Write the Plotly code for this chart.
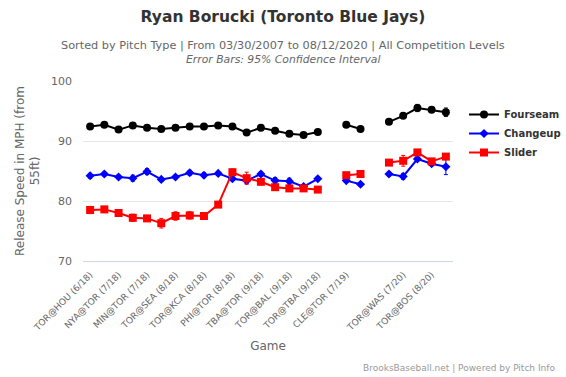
import plotly.graph_objects as go

# Game slots (blank slots separate seasons)
game_idx = list(range(26))
tick_pos = [0, 2, 4, 6, 8, 10, 12, 14, 16, 18, 20, 22, 24]
tick_labels = ["TOR@HOU (6/18)", "NYA@TOR (7/18)", "MIN@TOR (7/18)", "TOR@SEA (8/18)",
               "TOR@KCA (8/18)", "PHI@TOR (8/18)", "TBA@TOR (9/18)", "TOR@BAL (9/18)",
               "TOR@TBA (9/18)", "CLE@TOR (7/19)", "", "TOR@WAS (7/20)", "TOR@BOS (8/20)"]

fourseam = [92.4, 92.7, 91.9, 92.6, 92.2, 92.0, 92.2, 92.4, 92.4, 92.6, 92.4, 91.4, 92.2,
            91.7, 91.2, 91.0, 91.5, None, 92.7, 92.0, None, 93.2, 94.2, 95.5, 95.2, 94.8]
fourseam_err = [0.3, 0.3, 0.3, 0.3, 0.3, 0.3, 0.3, 0.3, 0.3, 0.3, 0.3, 0.3, 0.3,
                0.3, 0.3, 0.3, 0.3, None, 0.3, 0.3, None, 0.3, 0.4, 0.6, 0.4, 0.7]
changeup = [84.2, 84.5, 84.0, 83.8, 84.9, 83.6, 84.0, 84.7, 84.3, 84.6, 83.7, 83.4, 84.5,
            83.4, 83.3, 82.4, 83.7, None, 83.4, 82.8, None, 84.5, 84.1, 87.0, 86.2, 85.7]
changeup_err = [0.4, 0.3, 0.3, 0.5, 0.5, 0.3, 0.3, 0.4, 0.4, 0.3, 0.3, 0.5, 0.4,
                0.5, 0.5, 0.3, 0.3, None, 0.3, 0.3, None, 0.3, 0.5, 0.3, 0.3, 1.3]
slider = [78.5, 78.6, 78.0, 77.2, 77.1, 76.3, 77.5, 77.6, 77.5, 79.4, 84.8, 83.8, 83.2,
          82.3, 82.1, 82.1, 81.9, None, 84.3, 84.5, None, 86.4, 86.7, 88.1, 86.6, 87.4]
slider_err = [0.6, 0.5, 0.4, 0.6, 0.5, 0.8, 0.7, 0.6, 0.5, 0.4, 0.5, 1.0, 0.5,
              0.3, 0.3, 0.3, 0.3, None, 0.3, 0.3, None, 0.4, 0.9, 0.4, 0.4, 0.4]

FONT = "DejaVu Sans"
W, H = 566, 377
ML, MR, MT, MB = 83, 113, 81, 116

fig = go.Figure()
series = [
    ("Fourseam", fourseam, fourseam_err, "#000000", "circle", 8),
    ("Changeup", changeup, changeup_err, "#0000ff", "diamond", 7),
    ("Slider", slider, slider_err, "#ff0000", "square", 8),
]
for name, vals, errs, col, sym, sz in series:
    fig.add_trace(go.Scatter(
        x=game_idx, y=vals, name=name, mode="lines+markers",
        line=dict(color=col, width=2),
        marker=dict(color=col, symbol=sym, size=sz),
        error_y=dict(type="data", array=[e if e is not None else 0 for e in errs],
                     color=col, thickness=1, width=2),
        connectgaps=False,
    ))

plot_w = W - ML - MR
plot_h = H - MT - MB


def ypix(py):
    return (H - MB - py) / plot_h


def xpix(px):
    return (px - ML) / plot_w


fig.update_layout(
    width=W, height=H,
    margin=dict(l=ML, r=MR, t=MT, b=MB, autoexpand=False),
    paper_bgcolor="white", plot_bgcolor="white",
    font=dict(family=FONT, color="#666666", size=11),
    title=dict(text="Ryan Borucki (Toronto Blue Jays)", x=0.5, xanchor="center",
               y=1 - 17 / H, yanchor="middle",
               font=dict(family=FONT, size=15.5, color="#333333", weight="bold")),
    showlegend=True,
    legend=dict(x=xpix(464), xanchor="left", y=ypix(100), yanchor="top",
                font=dict(family=FONT, size=10, color="#333333", weight="bold"),
                bgcolor="rgba(0,0,0,0)", tracegroupgap=0, itemwidth=30),
    xaxis=dict(range=[-0.5, 25.5], tickmode="array", tickvals=tick_pos, ticktext=tick_labels,
               tickangle=-45, tickfont=dict(size=9, color="#666666"),
               showgrid=False, zeroline=False, showline=True, linecolor="#ccd6eb",
               linewidth=1, ticks="", ticklabelstandoff=4, automargin=False,
               title=dict(text="Game", font=dict(size=12, color="#666666"), standoff=9)),
    yaxis=dict(range=[70, 100], tickvals=[70, 80, 90, 100], showgrid=True,
               gridcolor="#e6e6e6", gridwidth=1, zeroline=False, showline=False,
               tickfont=dict(size=11, color="#666666"), ticklabelstandoff=10,
               automargin=False,
               title=dict(text="Release Speed in MPH (from<br>55ft)",
                          font=dict(size=12, color="#666666"), standoff=8)),
)

fig.add_annotation(text="Sorted by Pitch Type | From 03/30/2007 to 08/12/2020 | All Competition Levels",
                   xref="paper", yref="paper", x=xpix(283), y=ypix(45),
                   showarrow=False, font=dict(family=FONT, size=11.3, color="#666666"),
                   xanchor="center", yanchor="middle")
fig.add_annotation(text="<i>Error Bars: 95% Confidence Interval</i>",
                   xref="paper", yref="paper", x=xpix(283), y=ypix(60),
                   showarrow=False, font=dict(family=FONT, size=10.8, color="#666666"),
                   xanchor="center", yanchor="middle")
fig.add_annotation(text="BrooksBaseball.net | Powered by Pitch Info",
                   xref="paper", yref="paper", x=xpix(557), y=ypix(368),
                   showarrow=False, font=dict(family=FONT, size=9, color="#999999"),
                   xanchor="right", yanchor="middle")

fig.write_html("out.html", config={"displayModeBar": False},
               post_script="document.body.style.margin='0';")
